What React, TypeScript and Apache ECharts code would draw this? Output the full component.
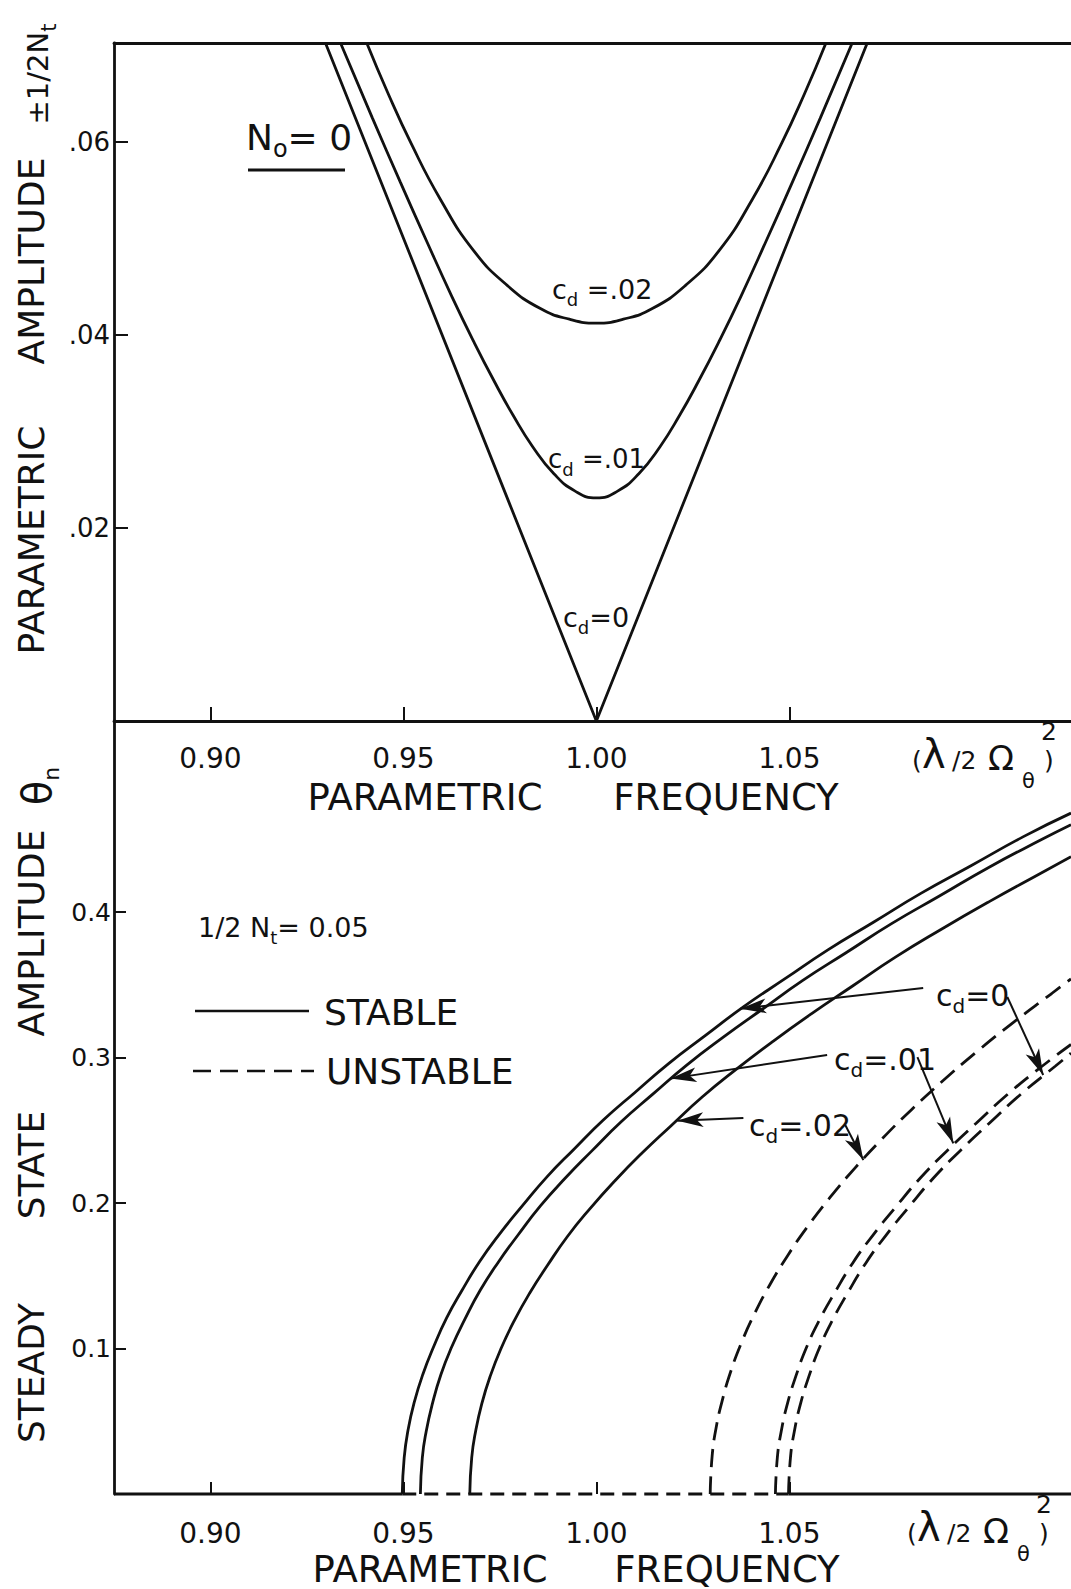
import React, { useEffect, useRef } from "react";
import * as echarts from "echarts";

// ---------- axes ----------
const XMIN = 0.875;
const XMAX = 1.123;
const TOP_YMAX = 0.0702;
const BOT_YMAX = 0.5313;
const xTicks = [0.9, 0.95, 1.0, 1.05];
const topYTicks = [0.02, 0.04, 0.06];
const botYTicks = [0.1, 0.2, 0.3, 0.4];

// ---------- top panel: instability boundaries (N_o = 0) ----------
const topCd0X = [0.9298, 1.0, 1.0702];
const topCd0Y = [0.0702, 0, 0.0702];
const topCd01X = [0.9337, 0.942, 0.9492, 0.956, 0.9625, 0.9682, 0.9735, 0.9785, 0.9835, 0.989, 0.9945, 1.0, 1.0055, 1.011, 1.0165, 1.0215, 1.0265, 1.0318, 1.0375, 1.044, 1.0508, 1.058, 1.0663];
const topCd01Y = [0.0702, 0.0624, 0.0558, 0.0497, 0.044, 0.0393, 0.0352, 0.0316, 0.0284, 0.0256, 0.0238, 0.0231, 0.0238, 0.0256, 0.0284, 0.0316, 0.0352, 0.0393, 0.044, 0.0497, 0.0558, 0.0624, 0.0702];
const topCd02X = [0.9405, 0.946, 0.952, 0.9596, 0.9682, 0.9769, 0.9855, 0.993, 1.0, 1.007, 1.0145, 1.0231, 1.0318, 1.0404, 1.048, 1.054, 1.0595];
const topCd02Y = [0.0702, 0.065, 0.0598, 0.054, 0.0487, 0.0451, 0.0427, 0.0416, 0.0412, 0.0416, 0.0427, 0.0451, 0.0487, 0.054, 0.0598, 0.065, 0.0702];

// ---------- bottom panel: steady-state amplitude (1/2 N_t = 0.05) ----------
const stableCd0X = [0.9497, 0.9502, 0.9512, 0.9528, 0.955, 0.9578, 0.9612, 0.9652, 0.9698, 0.975, 0.9808, 0.9872, 0.9942, 1.0018, 1.01, 1.0188, 1.0282, 1.0382, 1.0488, 1.06, 1.0718, 1.0842, 1.0972, 1.1108, 1.123];
const stableCd0Y = [0, 0.025, 0.044, 0.063, 0.082, 0.101, 0.121, 0.14, 0.16, 0.179, 0.198, 0.218, 0.237, 0.257, 0.276, 0.296, 0.315, 0.335, 0.354, 0.374, 0.393, 0.413, 0.432, 0.452, 0.468];
const stableCd01X = [0.9544, 0.9549, 0.9559, 0.9575, 0.9597, 0.9625, 0.9659, 0.9699, 0.9745, 0.9797, 0.9855, 0.9919, 0.9989, 1.0065, 1.0147, 1.0235, 1.0329, 1.0429, 1.0535, 1.0647, 1.0765, 1.0889, 1.1019, 1.1155, 1.123];
const stableCd01Y = [0, 0.025, 0.043, 0.062, 0.082, 0.101, 0.12, 0.14, 0.159, 0.178, 0.198, 0.217, 0.236, 0.256, 0.275, 0.295, 0.314, 0.333, 0.353, 0.372, 0.392, 0.411, 0.431, 0.45, 0.46];
const stableCd02X = [0.9672, 0.9677, 0.9687, 0.9703, 0.9725, 0.9753, 0.9787, 0.9827, 0.9873, 0.9925, 0.9983, 1.0047, 1.0117, 1.0193, 1.0275, 1.0363, 1.0457, 1.0557, 1.0663, 1.0775, 1.0893, 1.1017, 1.1147, 1.123];
const stableCd02Y = [0, 0.025, 0.043, 0.062, 0.081, 0.1, 0.119, 0.138, 0.157, 0.177, 0.196, 0.215, 0.234, 0.253, 0.273, 0.292, 0.311, 0.33, 0.349, 0.369, 0.388, 0.407, 0.426, 0.438];

const unstableCd0X = [1.0498, 1.0503, 1.0513, 1.0529, 1.0551, 1.0579, 1.0613, 1.0653, 1.0699, 1.0751, 1.0809, 1.0873, 1.0943, 1.1019, 1.1101, 1.1189, 1.123];
const unstableCd0Y = [0, 0.025, 0.043, 0.062, 0.081, 0.101, 0.12, 0.139, 0.159, 0.178, 0.197, 0.217, 0.236, 0.255, 0.275, 0.294, 0.303];
const unstableCd01X = [1.0464, 1.0469, 1.0479, 1.0495, 1.0517, 1.0545, 1.0579, 1.0619, 1.0665, 1.0717, 1.0775, 1.0839, 1.0909, 1.0985, 1.1067, 1.1155, 1.123];
const unstableCd01Y = [0, 0.025, 0.043, 0.062, 0.081, 0.101, 0.12, 0.139, 0.159, 0.178, 0.197, 0.217, 0.236, 0.255, 0.275, 0.294, 0.309];
const unstableCd02X = [1.0295, 1.03, 1.031, 1.0326, 1.0348, 1.0376, 1.041, 1.045, 1.0496, 1.0548, 1.0606, 1.067, 1.074, 1.0816, 1.0898, 1.0986, 1.108, 1.118, 1.123];
const unstableCd02Y = [0, 0.026, 0.045, 0.064, 0.084, 0.104, 0.124, 0.144, 0.164, 0.184, 0.204, 0.224, 0.244, 0.264, 0.284, 0.304, 0.324, 0.344, 0.354];

// trivial solution θ = 0: unstable between these frequencies
const trivialUnstableFrom = 0.9497;
const trivialUnstableTo = 1.0498;

// annotation arrows (bottom panel), [fromX, fromY, toX, toY]
const arrowCd0 = [[1.0847, 0.3478, 1.0373, 0.3335], [1.1065, 0.3416, 1.1158, 0.288]];
const arrowCd01 = [[1.0598, 0.3017, 1.0192, 0.2855], [1.0832, 0.3003, 1.0925, 0.241]];
const arrowCd02 = [[1.0381, 0.2585, 1.021, 0.2565], [1.0645, 0.2536, 1.0692, 0.2295]];

const zip = (xs: number[], ys: number[]) => xs.map((x, i) => [x, ys[i]]);

const FONT = "DejaVu Sans";
const INK = "#111";

function txt(x: number, y: number, text: string, size: number, extra: any = {}, el: any = {}) {
  return {
    type: "text",
    x,
    y,
    silent: true,
    ...el,
    style: {
      text,
      fontSize: size,
      fontFamily: FONT,
      fill: INK,
      align: "left",
      verticalAlign: "middle",
      textAlign: "left",
      textVerticalAlign: "middle",
      ...extra,
    },
  };
}

function richSub(main: number, sub: number, lh: number) {
  return {
    m: { fontSize: main, fontFamily: FONT, fill: INK, lineHeight: lh },
    s: { fontSize: sub, fontFamily: FONT, fill: INK, lineHeight: sub, verticalAlign: "bottom" },
  };
}

function freqUnit(dx: number, dy: number) {
  return [
    txt(912 + dx, 760 + dy, "(", 25),
    txt(922 + dx, 754 + dy, "λ", 40),
    txt(952 + dx, 760 + dy, "/2", 25),
    txt(988 + dx, 758 + dy, "Ω", 34),
    txt(1022 + dx, 781 + dy, "θ", 21),
    txt(1044 + dx, 760 + dy, ")", 25),
    txt(1041 + dx, 731 + dy, "2", 25),
  ];
}

export default function App() {
  const ref = useRef<HTMLDivElement>(null);
  useEffect(() => {
    const chart = echarts.init(ref.current as HTMLDivElement, null, { renderer: "svg" });
    const axisLine = { show: true, onZero: false, lineStyle: { color: INK, width: 2.8 } };
    const tickStyle = { color: INK, width: 2 };
    const labelBase = { color: INK, fontFamily: FONT };

    const line = (xs: number[], ys: number[], xi: number, yi: number, smooth: any, dash?: number[]) => ({
      type: "line",
      xAxisIndex: xi,
      yAxisIndex: yi,
      data: zip(xs, ys),
      symbol: "none",
      showSymbol: false,
      smooth,
      silent: true,
      lineStyle: { color: INK, width: 2.8, type: dash ? dash : "solid", cap: "butt" },
      z: 3,
    });

    const arrows = [...arrowCd0, ...arrowCd01, ...arrowCd02].map((a) => [
      { coord: [a[0], a[1]], symbol: "none" },
      { coord: [a[2], a[3]], symbol: "arrow", symbolSize: [11, 26] },
    ]);

    const option: any = {
      animation: false,
      backgroundColor: "#fff",
      grid: [
        { left: 114, top: 43, width: 957, height: 678, outerBoundsMode: "none", containLabel: false },
        { left: 114, top: 721, width: 957, height: 773, outerBoundsMode: "none", containLabel: false },
      ],
      xAxis: [
        {
          gridIndex: 0, type: "value", min: XMIN, max: XMAX, position: "bottom",
          axisLine, splitLine: { show: false },
          axisTick: { show: true, inside: true, length: 14, lineStyle: tickStyle, customValues: xTicks },
          axisLabel: { ...labelBase, fontSize: 28, margin: 23, customValues: xTicks, formatter: (v: number) => v.toFixed(2) },
        },
        {
          gridIndex: 0, type: "value", min: XMIN, max: XMAX, position: "top",
          axisLine, splitLine: { show: false }, axisTick: { show: false }, axisLabel: { show: false },
        },
        {
          gridIndex: 1, type: "value", min: XMIN, max: XMAX, position: "bottom",
          axisLine: { show: false }, splitLine: { show: false },
          axisTick: { show: true, inside: true, length: 12, lineStyle: tickStyle, customValues: xTicks },
          axisLabel: { ...labelBase, fontSize: 28, margin: 25, customValues: xTicks, formatter: (v: number) => v.toFixed(2) },
        },
      ],
      yAxis: [
        {
          gridIndex: 0, type: "value", min: 0, max: TOP_YMAX,
          axisLine, splitLine: { show: false },
          axisTick: { show: true, inside: true, length: 14, lineStyle: tickStyle, customValues: topYTicks },
          axisLabel: { ...labelBase, fontSize: 26, margin: 4, customValues: topYTicks, formatter: (v: number) => "." + v.toFixed(2).split(".")[1] },
        },
        {
          gridIndex: 1, type: "value", min: 0, max: BOT_YMAX,
          axisLine, splitLine: { show: false },
          axisTick: { show: true, inside: true, length: 12, lineStyle: tickStyle, customValues: botYTicks },
          axisLabel: { ...labelBase, fontSize: 25, margin: 3, customValues: botYTicks, formatter: (v: number) => v.toFixed(1) },
        },
      ],
      series: [
        line(topCd0X, topCd0Y, 0, 0, false),
        line(topCd01X, topCd01Y, 0, 0, 0.5),
        line(topCd02X, topCd02Y, 0, 0, 0.5),
        line(stableCd0X, stableCd0Y, 2, 1, 0.5),
        line(stableCd01X, stableCd01Y, 2, 1, 0.5),
        line(stableCd02X, stableCd02Y, 2, 1, 0.5),
        line(unstableCd0X, unstableCd0Y, 2, 1, 0.5, [18, 9]),
        line(unstableCd01X, unstableCd01Y, 2, 1, 0.5, [18, 9]),
        line(unstableCd02X, unstableCd02Y, 2, 1, 0.5, [18, 9]),
        { ...line([XMIN, trivialUnstableFrom], [0, 0], 2, 1, false), clip: false },
        { ...line([trivialUnstableFrom, trivialUnstableTo], [0, 0], 2, 1, false, [14, 8]), clip: false },
        {
          ...line([trivialUnstableTo, XMAX], [0, 0], 2, 1, false),
          clip: false,
          markLine: {
            silent: true,
            animation: false,
            label: { show: false },
            lineStyle: { color: INK, width: 2, type: "solid" },
            emphasis: { disabled: true },
            data: arrows,
          },
        },
      ],
      graphic: [
        // top y title
        txt(31, 540, "PARAMETRIC", 36, { align: "center", textAlign: "center" }, { rotation: Math.PI / 2 }),
        txt(31, 261, "AMPLITUDE", 36, { align: "center", textAlign: "center" }, { rotation: Math.PI / 2 }),
        txt(38, 74, "{m|±1/2N}{s|t}", 29, { align: "center", textAlign: "center", rich: richSub(29, 21, 42) }, { rotation: Math.PI / 2 }),
        // top x titles
        txt(425, 797, "PARAMETRIC", 37, { align: "center", textAlign: "center" }),
        txt(726, 797, "FREQUENCY", 37, { align: "center", textAlign: "center" }),
        ...freqUnit(0, 0),
        // top annotations
        txt(246, 137, "{m|N}{s|o}{m|= 0}", 36, { rich: richSub(36, 24, 48) }),
        { type: "line", silent: true, shape: { x1: 248, y1: 170, x2: 345, y2: 170 }, style: { stroke: INK, lineWidth: 3 } },
        txt(552, 289, "{m|c}{s|d}{m| =.02}", 27, { rich: richSub(27, 18, 38) }),
        txt(548, 459, "{m|c}{s|d}{m| =.01}", 26, { rich: richSub(26, 18, 38) }),
        txt(563, 617, "{m|c}{s|d}{m|=0}", 27, { rich: richSub(27, 18, 38) }),
        // bottom y title
        txt(31, 1373, "STEADY", 36, { align: "center", textAlign: "center" }, { rotation: Math.PI / 2 }),
        txt(31, 1165, "STATE", 36, { align: "center", textAlign: "center" }, { rotation: Math.PI / 2 }),
        txt(31, 933, "AMPLITUDE", 36, { align: "center", textAlign: "center" }, { rotation: Math.PI / 2 }),
        txt(37, 786, "{m|θ}{s|n}", 40, { align: "center", textAlign: "center", rich: richSub(40, 22, 50) }, { rotation: Math.PI / 2 }),
        // bottom x titles
        txt(430, 1569, "PARAMETRIC", 37, { align: "center", textAlign: "center" }),
        txt(727, 1569, "FREQUENCY", 37, { align: "center", textAlign: "center" }),
        ...freqUnit(-5, 773),
        // bottom annotations
        txt(198, 927, "{m|1/2 N}{s|t}{m|= 0.05}", 27, { rich: richSub(27, 18, 38) }),
        { type: "line", silent: true, shape: { x1: 195, y1: 1011, x2: 309, y2: 1011 }, style: { stroke: INK, lineWidth: 2.6 } },
        txt(324, 1012, "STABLE", 36),
        { type: "line", silent: true, shape: { x1: 193, y1: 1071, x2: 314, y2: 1071 }, style: { stroke: INK, lineWidth: 2.6, lineDash: [18, 9] } },
        txt(326, 1071, "UNSTABLE", 36),
        txt(936, 995, "{m|c}{s|d}{m|=0}", 30, { rich: richSub(30, 20, 42) }),
        txt(834, 1059, "{m|c}{s|d}{m|=.01}", 30, { rich: richSub(30, 20, 42) }),
        txt(749, 1125, "{m|c}{s|d}{m|=.02}", 30, { rich: richSub(30, 20, 42) }),
      ],
    };
    chart.setOption(option);
    return () => chart.dispose();
  }, []);
  return (
    <div
      ref={ref}
      style={{ position: "absolute", left: 0, top: 0, width: 1071, height: 1589, background: "#fff" }}
    />
  );
}
